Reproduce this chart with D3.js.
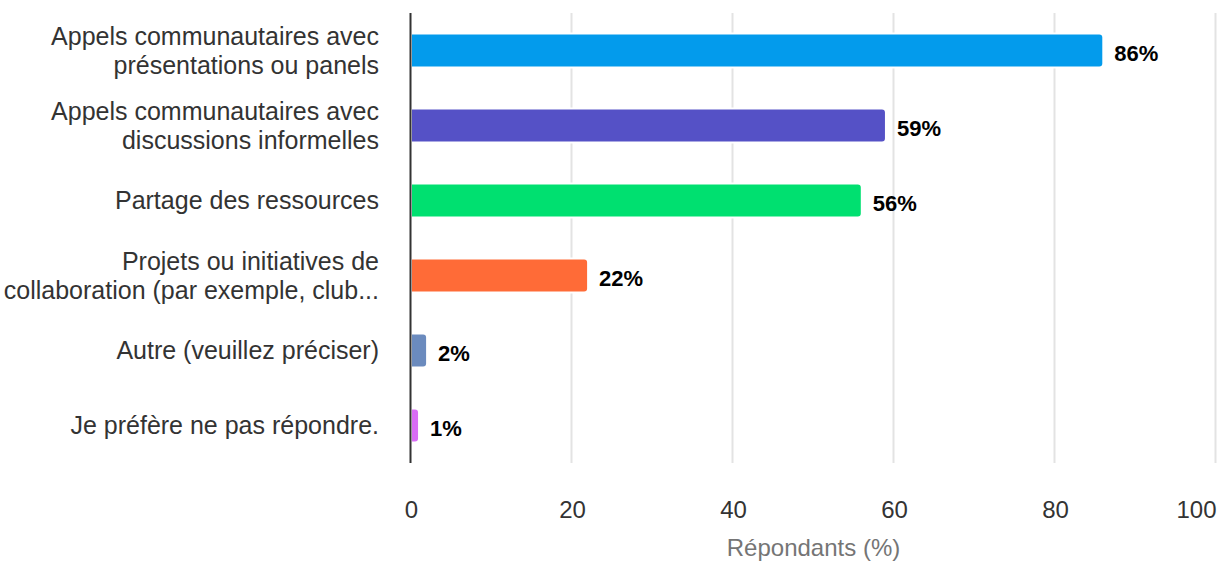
<!DOCTYPE html>
<html>
<head>
<meta charset="utf-8">
<script src="https://cdn.jsdelivr.net/npm/d3@7"></script>
<style>
  html, body { margin: 0; padding: 0; background: #fff; }
  svg { display: block; font-family: "Liberation Sans", Arial, Helvetica, sans-serif; }
</style>
</head>
<body>
<svg id="chart" width="1217" height="561"></svg>
<script>
const categories = [
  ["Appels communautaires avec", "présentations ou panels"],
  ["Appels communautaires avec", "discussions informelles"],
  ["Partage des ressources"],
  ["Projets ou initiatives de", "collaboration (par exemple, club..."],
  ["Autre (veuillez préciser)"],
  ["Je préfère ne pas répondre."]
];
const values = [86, 59, 56, 22, 2, 1];
const colors = ["#039BEC", "#5551C6", "#00E070", "#FF6B37", "#6B8BBE", "#D86CF5"];
const xTicks = [0, 20, 40, 60, 80, 100];
const xTitle = "Répondants (%)";

const svg = d3.select("#chart");
const plotLeft = 411, plotRight = 1216, plotTop = 13, plotBottom = 463;

const x = d3.scaleLinear().domain([0, 100]).range([plotLeft, plotRight]);
const y = d3.scaleBand().domain(d3.range(categories.length)).range([plotTop, plotBottom])
  .paddingInner(0.547).paddingOuter(0.2735);

// gridlines
svg.append("g").selectAll("line").data(xTicks.slice(1)).join("line")
  .attr("x1", d => x(d) - 0.5).attr("x2", d => x(d) - 0.5)
  .attr("y1", plotTop).attr("y2", plotBottom)
  .attr("stroke", "#e3e3e3").attr("stroke-width", 2);

// bars with rounded right end
const r = 4;
function barPath(v, i) {
  const x0 = x(0), x1 = x(v), y0 = y(i), h = y.bandwidth();
  const rr = Math.min(r, (x1 - x0) / 2);
  return `M${x0},${y0} H${x1 - rr} Q${x1},${y0} ${x1},${y0 + rr} V${y0 + h - rr} Q${x1},${y0 + h} ${x1 - rr},${y0 + h} H${x0} Z`;
}
svg.append("g").selectAll("path").data(values).join("path")
  .attr("d", (d, i) => barPath(d, i))
  .attr("fill", (d, i) => colors[i])
  .attr("stroke", "#fff").attr("stroke-width", 2);

// value labels
svg.append("g").selectAll("text").data(values).join("text")
  .attr("x", d => x(d) + 11)
  .attr("y", (d, i) => y(i) + y.bandwidth() / 2 + 3)
  .attr("dy", "0.36em")
  .attr("font-size", 22).attr("font-weight", "bold").attr("fill", "#000")
  .text(d => d + "%");

// y axis line
svg.append("line")
  .attr("x1", plotLeft - 0.5).attr("x2", plotLeft - 0.5)
  .attr("y1", plotTop).attr("y2", plotBottom)
  .attr("stroke", "#333").attr("stroke-width", 2);

// category labels
const lineH = 29;
const cat = svg.append("g").selectAll("text").data(categories).join("text")
  .attr("text-anchor", "end")
  .attr("font-size", 25).attr("fill", "#333");
cat.each(function(lines, i) {
  const cy = y(i) + y.bandwidth() / 2;
  const t = d3.select(this);
  lines.forEach((ln, j) => {
    t.append("tspan")
      .attr("x", 379)
      .attr("y", cy + (j - (lines.length - 1) / 2) * lineH)
      .attr("dy", "0.35em")
      .text(ln);
  });
});

// x axis tick labels
const xAxis = d3.axisBottom(x).tickValues(xTicks).tickSize(0).tickPadding(0);
const gx = svg.append("g").attr("transform", `translate(0,${plotBottom})`).call(xAxis);
gx.select(".domain").remove();
gx.selectAll("text")
  .attr("font-size", 24).attr("fill", "#333")
  .attr("font-family", "Liberation Sans, Arial, sans-serif")
  .attr("y", 55).attr("dy", 0)
  .attr("text-anchor", d => d === 100 ? "end" : "middle");

// x title
svg.append("text")
  .attr("x", (plotLeft + plotRight) / 2).attr("y", 556)
  .attr("text-anchor", "middle")
  .attr("font-size", 24).attr("fill", "#757575")
  .text(xTitle);
</script>
</body>
</html>
